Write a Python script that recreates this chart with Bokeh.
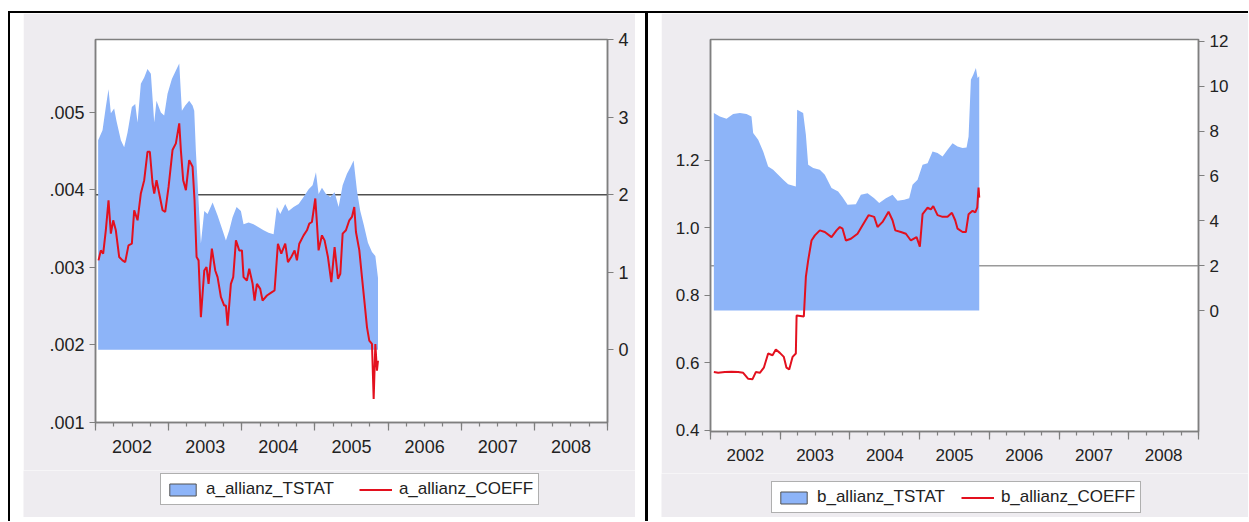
from bokeh.plotting import figure
from bokeh.models import (Range1d, LinearAxis, FixedTicker, CustomJSTickFormatter, Span,
                          Legend, LegendItem, Div, Spacer)
from bokeh.layouts import row, column
from bokeh.embed import file_html
from bokeh.resources import INLINE

# ---------------- data ----------------
year_labels = ["2002", "2003", "2004", "2005", "2006", "2007", "2008"]
first_year = 2002

a_left_ticks = [0.001, 0.002, 0.003, 0.004, 0.005]
a_left_labels = [".001", ".002", ".003", ".004", ".005"]
a_right_ticks = [0, 1, 2, 3, 4]
a_right_labels = ["0", "1", "2", "3", "4"]

b_left_ticks = [0.4, 0.6, 0.8, 1.0, 1.2]
b_left_labels = ["0.4", "0.6", "0.8", "1.0", "1.2"]
b_right_ticks = [0, 2, 4, 6, 8, 10, 12]
b_right_labels = ["0", "2", "4", "6", "8", "10", "12"]

tstat_reference = 2.0

a_tstat_t = [2002.036, 2002.096, 2002.141, 2002.178, 2002.210, 2002.255, 2002.287, 2002.347, 2002.392,
             2002.438, 2002.497, 2002.543, 2002.575, 2002.620, 2002.666, 2002.711, 2002.757, 2002.803,
             2002.834, 2002.894, 2002.939, 2002.985, 2003.044, 2003.099, 2003.145, 2003.181, 2003.227,
             2003.281, 2003.327, 2003.350, 2003.372, 2003.409, 2003.441, 2003.487, 2003.532, 2003.601,
             2003.669, 2003.737, 2003.783, 2003.829, 2003.874, 2003.929, 2003.988, 2004.024, 2004.093,
             2004.161, 2004.230, 2004.298, 2004.366, 2004.435, 2004.480, 2004.526, 2004.594, 2004.640,
             2004.708, 2004.777, 2004.845, 2004.914, 2004.968, 2005.014, 2005.050, 2005.096, 2005.151,
             2005.210, 2005.269, 2005.324, 2005.379, 2005.438, 2005.484, 2005.529, 2005.575, 2005.620,
             2005.666, 2005.725, 2005.780, 2005.826, 2005.862]
a_tstat = [2.70, 2.83, 3.13, 3.36, 3.05, 3.11, 2.95, 2.70, 2.61, 2.80, 3.13, 3.17, 2.93, 3.43, 3.51,
           3.62, 3.56, 2.93, 3.21, 3.06, 3.02, 3.30, 3.49, 3.60, 3.69, 3.08, 3.15, 3.21, 3.15, 3.08,
           2.57, 1.92, 1.37, 1.79, 1.75, 1.90, 1.73, 1.54, 1.41, 1.54, 1.71, 1.84, 1.79, 1.62, 1.64,
           1.62, 1.58, 1.54, 1.51, 1.49, 1.84, 1.75, 1.88, 1.79, 1.84, 1.88, 1.97, 2.07, 2.12, 2.29,
           2.01, 2.09, 2.01, 1.97, 2.03, 1.84, 2.12, 2.27, 2.35, 2.44, 2.05, 1.79, 1.62, 1.38, 1.26,
           1.21, 0.93]

a_coeff_t = [2002.041, 2002.073, 2002.105, 2002.141, 2002.178, 2002.210, 2002.242, 2002.278, 2002.324,
             2002.369, 2002.406, 2002.451, 2002.497, 2002.529, 2002.575, 2002.620, 2002.666, 2002.711,
             2002.743, 2002.780, 2002.803, 2002.834, 2002.871, 2002.917, 2002.953, 2002.999, 2003.053,
             2003.099, 2003.145, 2003.167, 2003.199, 2003.236, 2003.281, 2003.327, 2003.354, 2003.382,
             2003.409, 2003.441, 2003.487, 2003.518, 2003.546, 2003.591, 2003.637, 2003.669, 2003.715,
             2003.760, 2003.783, 2003.806, 2003.851, 2003.883, 2003.920, 2003.965, 2004.002, 2004.024,
             2004.070, 2004.102, 2004.148, 2004.175, 2004.207, 2004.252, 2004.284, 2004.344, 2004.412,
             2004.448, 2004.494, 2004.540, 2004.594, 2004.631, 2004.676, 2004.722, 2004.754, 2004.786,
             2004.845, 2004.891, 2004.923, 2004.959, 2005.005, 2005.028, 2005.050, 2005.096, 2005.132,
             2005.178, 2005.224, 2005.269, 2005.315, 2005.347, 2005.379, 2005.424, 2005.470, 2005.506,
             2005.538, 2005.561, 2005.607, 2005.643, 2005.680, 2005.712, 2005.743, 2005.780, 2005.803,
             2005.826, 2005.848, 2005.862]
a_coeff = [0.003087, 0.003216, 0.003173, 0.003475, 0.003863, 0.003432, 0.003604, 0.003475, 0.003130,
           0.003087, 0.003065, 0.003281, 0.003302, 0.003734, 0.003604, 0.003950, 0.004122, 0.004488,
           0.004488, 0.004079, 0.003950, 0.004122, 0.003950, 0.003734, 0.003712, 0.004035, 0.004510,
           0.004596, 0.004855, 0.004510, 0.004122, 0.003992, 0.004380, 0.004294, 0.003863, 0.003130,
           0.003087, 0.002353, 0.002957, 0.003000, 0.002785, 0.003238, 0.002957, 0.002871, 0.002612,
           0.002505, 0.002505, 0.002246, 0.002785, 0.002871, 0.003345, 0.003216, 0.003216, 0.002871,
           0.002828, 0.002979, 0.002785, 0.002569, 0.002785, 0.002720, 0.002569, 0.002634, 0.002677,
           0.002699, 0.003302, 0.003173, 0.003302, 0.003065, 0.003130, 0.003216, 0.003087, 0.003302,
           0.003410, 0.003475, 0.003561, 0.003582, 0.003885, 0.003561, 0.003216, 0.003410, 0.003345,
           0.003130, 0.002806, 0.003259, 0.002850, 0.002915, 0.003432, 0.003475, 0.003604, 0.003647,
           0.003776, 0.003453, 0.003216, 0.002871, 0.002526, 0.002224, 0.002052, 0.002009, 0.001298,
           0.002009, 0.001664, 0.001793]

b_tstat_t = [2002.048, 2002.134, 2002.230, 2002.325, 2002.421, 2002.517, 2002.588, 2002.612, 2002.684,
             2002.756, 2002.827, 2002.899, 2002.971, 2003.043, 2003.114, 2003.224, 2003.243, 2003.329,
             2003.368, 2003.401, 2003.473, 2003.568, 2003.640, 2003.736, 2003.831, 2003.894, 2003.966,
             2004.085, 2004.157, 2004.253, 2004.348, 2004.420, 2004.516, 2004.611, 2004.683, 2004.779,
             2004.850, 2004.898, 2004.970, 2005.042, 2005.114, 2005.185, 2005.257, 2005.329, 2005.400,
             2005.472, 2005.544, 2005.616, 2005.673, 2005.702, 2005.735, 2005.769, 2005.807, 2005.831,
             2005.855]
b_tstat = [8.80, 8.65, 8.55, 8.76, 8.80, 8.76, 8.65, 7.91, 7.61, 7.09, 6.42, 6.27, 6.05, 5.83, 5.63,
           5.53, 8.95, 8.80, 7.84, 6.50, 6.35, 6.27, 6.05, 5.46, 5.31, 5.05, 4.71, 4.74, 5.16, 5.23,
           5.01, 4.79, 5.01, 5.16, 4.89, 4.94, 5.01, 5.61, 5.83, 6.50, 6.57, 7.09, 7.02, 6.87, 7.17,
           7.46, 7.31, 7.24, 7.27, 7.76, 10.29, 10.51, 10.81, 10.36, 10.44]

b_coeff_t = [2002.048, 2002.110, 2002.206, 2002.301, 2002.397, 2002.469, 2002.541, 2002.603, 2002.650,
             2002.708, 2002.765, 2002.827, 2002.890, 2002.937, 2002.995, 2003.052, 2003.090, 2003.129,
             2003.177, 2003.224, 2003.235, 2003.339, 2003.368, 2003.401, 2003.449, 2003.497, 2003.568,
             2003.640, 2003.736, 2003.808, 2003.855, 2003.894, 2003.942, 2004.014, 2004.109, 2004.181,
             2004.267, 2004.348, 2004.396, 2004.468, 2004.554, 2004.611, 2004.650, 2004.731, 2004.803,
             2004.874, 2004.956, 2005.003, 2005.042, 2005.114, 2005.161, 2005.195, 2005.257, 2005.329,
             2005.400, 2005.463, 2005.510, 2005.544, 2005.616, 2005.663, 2005.702, 2005.759, 2005.798,
             2005.826, 2005.845, 2005.855]
b_coeff = [0.573, 0.571, 0.573, 0.574, 0.573, 0.571, 0.553, 0.552, 0.573, 0.571, 0.586, 0.628, 0.623,
           0.640, 0.630, 0.618, 0.586, 0.581, 0.618, 0.628, 0.741, 0.738, 0.855, 0.904, 0.963, 0.978,
           0.993, 0.988, 0.973, 0.993, 1.003, 0.998, 0.963, 0.968, 0.983, 1.008, 1.038, 1.033, 1.003,
           1.018, 1.048, 1.023, 0.993, 0.988, 0.983, 0.963, 0.973, 0.945, 1.041, 1.060, 1.055, 1.065,
           1.038, 1.033, 1.033, 1.045, 1.023, 0.998, 0.988, 0.988, 1.041, 1.051, 1.046, 1.060, 1.120,
           1.090]

# ---------------- style ----------------
PANEL_GRAY = "#eeecf0"
BLUE = "#8db4f8"
RED = "#e3101e"
AXIS_GRAY = "#7f7f7f"
TEXT = "#222222"
FONT = "Liberation Sans"


def label_formatter(tick_values, tick_texts):
    return CustomJSTickFormatter(args=dict(tvals=list(tick_values), ttexts=list(tick_texts)), code="""
        for (let i = 0; i < tvals.length; i++) {
            if (Math.abs(tick - tvals[i]) < 1e-9) return ttexts[i];
        }
        return '';
    """)


def style_axis(ax, size, tick_out=6):
    ax.axis_line_color = AXIS_GRAY
    ax.axis_line_width = 1.5
    ax.major_tick_line_color = AXIS_GRAY
    ax.major_tick_line_width = 1.2
    ax.minor_tick_line_color = AXIS_GRAY
    ax.minor_tick_line_width = 1.2
    ax.major_tick_in = 0
    ax.major_tick_out = tick_out
    ax.minor_tick_in = 0
    ax.minor_tick_out = 0
    ax.major_label_text_font = FONT
    ax.major_label_text_font_size = size
    ax.major_label_text_color = TEXT
    ax.major_label_standoff = 5


def make_panel(width, height, borders, left_range, right_range, left_ticks, left_labels,
               right_ticks, right_labels, tstat_t, tstat, coeff_t, coeff, names,
               tick_size, ref_color, legend_height, legend_loc, legend_spacing):
    bl, br, bt, bb = borders
    p = figure(width=width, height=height, x_range=Range1d(first_year, first_year + len(year_labels)),
               y_range=Range1d(*left_range), x_axis_type=None, y_axis_type=None,
               output_backend="svg", toolbar_location=None,
               min_border_left=bl, min_border_right=br, min_border_top=bt, min_border_bottom=bb)
    p.extra_y_ranges = {"t": Range1d(*right_range)}
    p.background_fill_color = "white"
    p.border_fill_color = PANEL_GRAY
    p.outline_line_color = AXIS_GRAY
    p.outline_line_width = 1.5

    ly = LinearAxis(ticker=FixedTicker(ticks=left_ticks), formatter=label_formatter(left_ticks, left_labels))
    style_axis(ly, tick_size)
    p.add_layout(ly, "left")
    ry = LinearAxis(y_range_name="t", ticker=FixedTicker(ticks=right_ticks),
                    formatter=label_formatter(right_ticks, right_labels))
    style_axis(ry, tick_size)
    p.add_layout(ry, "right")

    year_starts = [first_year + i for i in range(len(year_labels) + 1)]
    quarters = [first_year + i / 4 for i in range(4 * len(year_labels) + 1)]
    mids = [first_year + i + 0.5 for i in range(len(year_labels))]
    bx = LinearAxis(ticker=FixedTicker(ticks=year_starts, minor_ticks=quarters),
                    formatter=label_formatter([], []))
    style_axis(bx, "0px", tick_out=8)
    bx.minor_tick_out = 4
    bx.major_label_standoff = 0
    p.add_layout(bx, "below")
    lx = LinearAxis(ticker=FixedTicker(ticks=mids), formatter=label_formatter(mids, year_labels))
    style_axis(lx, tick_size, tick_out=0)
    lx.axis_line_color = None
    lx.major_tick_line_color = None
    lx.minor_tick_line_color = None
    lx.major_label_standoff = 9
    p.add_layout(lx, "below")

    p.add_layout(Span(location=tstat_reference, dimension="width", y_range_name="t",
                      line_color=ref_color, line_width=1.5, level="underlay"))

    p.varea(x=tstat_t, y1=0, y2=tstat, fill_color=BLUE, y_range_name="t")
    p.line(coeff_t, coeff, line_color=RED, line_width=2)

    # legend strip: its own small figure; its key renderers lie outside its visible ranges
    lf = figure(width=width, height=legend_height, x_range=Range1d(0, 1), y_range=Range1d(0, 1),
                x_axis_type=None, y_axis_type=None, output_backend="svg", toolbar_location=None,
                min_border=0, margin=0)
    lf.background_fill_color = PANEL_GRAY
    lf.border_fill_color = PANEL_GRAY
    lf.outline_line_color = None
    swatch = lf.vbar(x=tstat_t, top=tstat, bottom=0, width=0.02, fill_color=BLUE,
                     line_color="#505050", line_width=1)
    red_key = lf.line(x=coeff_t, y=coeff, line_color=RED, line_width=2)
    legend = Legend(items=[LegendItem(label=names[0], renderers=[swatch]),
                           LegendItem(label=names[1], renderers=[red_key])],
                    location=legend_loc, orientation="horizontal", padding=5, spacing=legend_spacing,
                    label_standoff=7, glyph_width=33, glyph_height=15, margin=0,
                    label_text_font=FONT, label_text_font_size="17px", label_text_color=TEXT,
                    border_line_color="#606060", border_line_width=1,
                    background_fill_color="white", background_fill_alpha=1.0)
    lf.add_layout(legend)
    return column(p, row(lf, margin=0), margin=0)


pa = make_panel(612, 457, (72, 28, 26, 48), (0.000996, 0.005936), (-0.937, 4.0),
                a_left_ticks, a_left_labels, a_right_ticks, a_right_labels,
                a_tstat_t, a_tstat, a_coeff_t, a_coeff, ("a_allianz_TSTAT", "a_allianz_COEFF"),
                "18px", "#505050", 47, (137, 12), 25)
pb = make_panel(587, 460, (49, 50, 26, 42), (0.397, 1.5585), (-5.39, 12.08),
                b_left_ticks, b_left_labels, b_right_ticks, b_right_labels,
                b_tstat_t, b_tstat, b_coeff_t, b_coeff, ("b_allianz_TSTAT", "b_allianz_COEFF"),
                "17px", "#9a9a9a", 44, (110, 4), 16)


def black(w, h):
    return Div(text="", width=w, height=h, margin=0, styles={"background-color": "black"})


def blank(w, h):
    return Spacer(width=w, height=h, margin=0)


layout = column(
    blank(1248, 11),
    row(blank(8, 2), black(1240, 2), margin=0),
    row(blank(8, 508), black(2, 508), blank(13, 508), pa, blank(10, 508), black(3, 508),
        blank(13, 508), pb, margin=0),
    margin=0,
)

open("out.html", "w").write(file_html(layout, INLINE))
